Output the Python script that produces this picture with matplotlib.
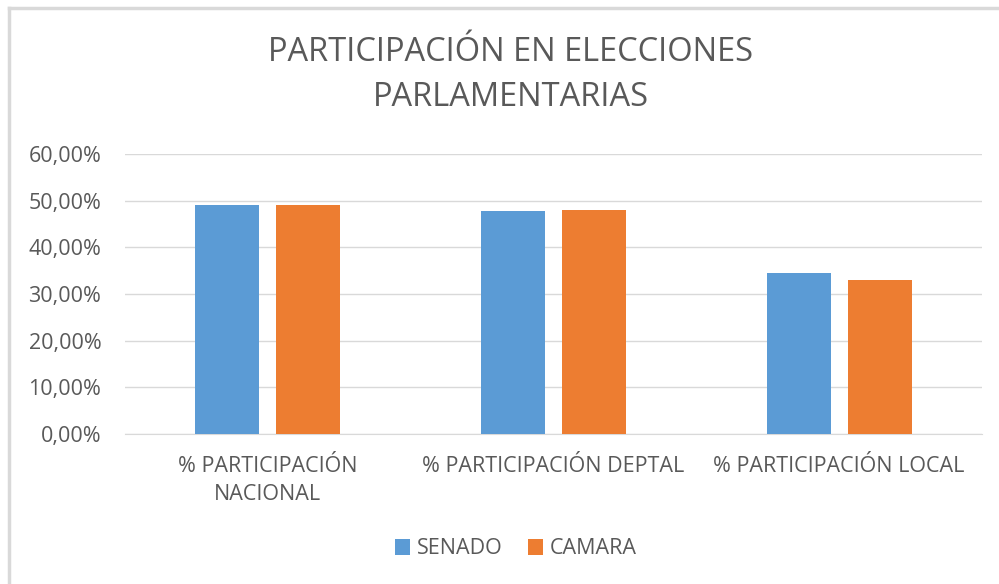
import matplotlib.pyplot as plt
import matplotlib.ticker as ticker
from matplotlib.lines import Line2D
import numpy as np

categories = ["% PARTICIPACIÓN\nNACIONAL", "% PARTICIPACIÓN DEPTAL", "% PARTICIPACIÓN LOCAL"]
senado = [0.490, 0.478, 0.346]
camara = [0.490, 0.481, 0.329]
y_ticks = [0.0, 0.1, 0.2, 0.3, 0.4, 0.5, 0.6]

BLUE = "#5B9BD5"
ORANGE = "#ED7D31"
TEXT = "#595959"
GRID = "#D9D9D9"

plt.rcParams["font.family"] = ["Open Sans", "DejaVu Sans"]

fig = plt.figure(figsize=(9.99, 5.84), dpi=100)
ax = fig.add_axes([125 / 999, 1 - 434 / 584, 857 / 999, 280 / 584])

# chart frame (only left and top edges are visible)
fig.lines.append(Line2D([9 / 999, 9 / 999], [0, 1 - 8 / 584], transform=fig.transFigure,
                        color=GRID, linewidth=2.5))
fig.lines.append(Line2D([9 / 999, 1], [1 - 8 / 584, 1 - 8 / 584], transform=fig.transFigure,
                        color=GRID, linewidth=2.5))

x = np.arange(len(categories))
width = 0.224
offset = 0.142
ax.bar(x - offset, senado, width, color=BLUE, label="SENADO", zorder=3)
ax.bar(x + offset, camara, width, color=ORANGE, label="CAMARA", zorder=3)

ax.set_xlim(-0.5, 2.5)
ax.set_ylim(0, 0.6)
ax.set_yticks(y_ticks)
ax.yaxis.set_major_formatter(
    ticker.FuncFormatter(lambda v, pos: f"{v * 100:.2f}%".replace(".", ","))
)
ax.set_xticks(x)
ax.set_xticklabels(categories)
ax.grid(True, axis="y", color=GRID, linewidth=1, zorder=0)
for side in ["top", "right", "left"]:
    ax.spines[side].set_visible(False)
ax.spines["bottom"].set_color(GRID)
ax.tick_params(axis="both", length=0, colors=TEXT, labelsize=15.5)
ax.tick_params(axis="x", pad=16)
ax.tick_params(axis="y", pad=17)
for lab in ax.get_xticklabels():
    lab.set_linespacing(1.45)

fig.text(511 / 999, 1 - 75 / 584, "PARTICIPACIÓN EN ELECCIONES\nPARLAMENTARIAS",
         ha="center", va="center", fontsize=23.5, color=TEXT, linespacing=1.5)

fig.legend(loc="center", bbox_to_anchor=(516 / 999, 1 - 549 / 584), ncol=2,
           frameon=False, fontsize=15.5, labelcolor=TEXT, handlelength=0.7,
           handleheight=0.7, handletextpad=0.3, columnspacing=1.2)

fig.savefig("out.png", dpi=100)
